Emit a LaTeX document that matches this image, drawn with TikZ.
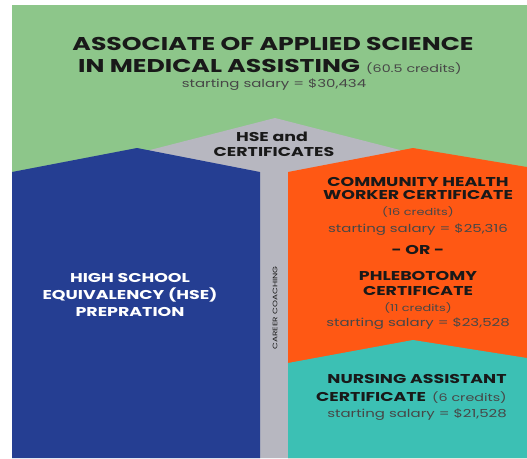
\documentclass[tikz,border=0pt]{standalone}
\usepackage{fontspec}
\setmainfont{Poppins}
\newfontfamily\hd[FakeStretch=1.36]{Poppins}
\definecolor{bggreen}{RGB}{141,198,138}
\definecolor{hseblue}{RGB}{37,62,146}
\definecolor{coachgray}{RGB}{183,183,192}
\definecolor{certorange}{RGB}{255,88,20}
\definecolor{nurseteal}{RGB}{60,192,180}
\definecolor{ink}{RGB}{25,25,25}
\tikzset{
  txt/.style={inner sep=0pt, anchor=center, text=ink},
  big/.style={txt, font=\hd\bfseries\fontsize{18.5}{18.5}\selectfont},
  mid/.style={txt, font=\hd\bfseries\fontsize{12.8}{12.8}\selectfont},
  sml/.style={txt, font=\hd\fontsize{11}{11}\selectfont, text=ink!80},
  cred/.style={txt, font=\hd\fontsize{9.5}{9.5}\selectfont, text=ink!80},
  wmid/.style={mid, text=white},
}
\begin{document}
\begin{tikzpicture}[x=1pt,y=-1pt]
\useasboundingbox (0,0) rectangle (527,458);
\fill[white] (0,0) rectangle (527,458);
\fill[bggreen] (12,5) rectangle (527,458);
% gray chevron (HSE and certificates / career coaching)
\fill[coachgray] (150,150) -- (275,118) -- (400,150) -- (400,458) -- (150,458) -- cycle;
% blue
\fill[hseblue] (12,172) -- (137,148) -- (260,172) -- (260,458) -- (12,458) -- cycle;
% orange
\fill[certorange] (288,172) -- (413,148) -- (527,167) -- (527,458) -- (288,458) -- cycle;
% teal
\fill[nurseteal] (288,363) -- (413,340) -- (527,358) -- (527,458) -- (288,458) -- cycle;
% title
\node[big] (t1) at (273,44) {ASSOCIATE OF APPLIED SCIENCE};
\node[big, anchor=base west] (t2) at (78,72.5) {IN MEDICAL ASSISTING};
\node[cred, anchor=base west, font=\hd\fontsize{10.5}{10.5}\selectfont] (t2c) at (366,72.5) {(60.5 credits)};
\node[sml] (t3) at (274,85) {starting salary = \$30,434};
\node[mid] (h1) at (272,137) {HSE and};
\node[mid] (h2) at (274,152) {CERTIFICATES};
% blue
\node[wmid] (b1) at (130,278) {HIGH SCHOOL};
\node[wmid] (b2) at (130,295) {EQUIVALENCY (HSE)};
\node[wmid] (b3) at (130,312) {PREPRATION};
% coaching
\node[txt, rotate=90, font=\hd\fontsize{6.5}{6.5}\selectfont] (cc) at (275,308) {CAREER COACHING};
% orange
\node[mid] (o1) at (418,182) {COMMUNITY HEALTH};
\node[mid] (o2) at (418,195) {WORKER CERTIFICATE};
\node[cred] (o3) at (418,212) {(16 credits)};
\node[sml] (o4) at (418,230) {starting salary = \$25,316};
\node[mid] (o5) at (418,250) {- OR -};
\node[mid] (o6) at (418,276) {PHLEBOTOMY};
\node[mid] (o7) at (418,291) {CERTIFICATE};
\node[cred] (o8) at (418,308) {(11 credits)};
\node[sml] (o9) at (418,324) {starting salary = \$23,528};
% teal
\node[mid] (n1) at (417,379) {NURSING ASSISTANT};
\node[mid, anchor=base west] (n2) at (316,401.5) {CERTIFICATE};
\node[cred, anchor=base west, font=\hd\fontsize{10.5}{10.5}\selectfont] (n2c) at (432,401.5) {(6 credits)};
\node[sml] (n3) at (417,415) {starting salary = \$21,528};
\end{tikzpicture}
\end{document}
